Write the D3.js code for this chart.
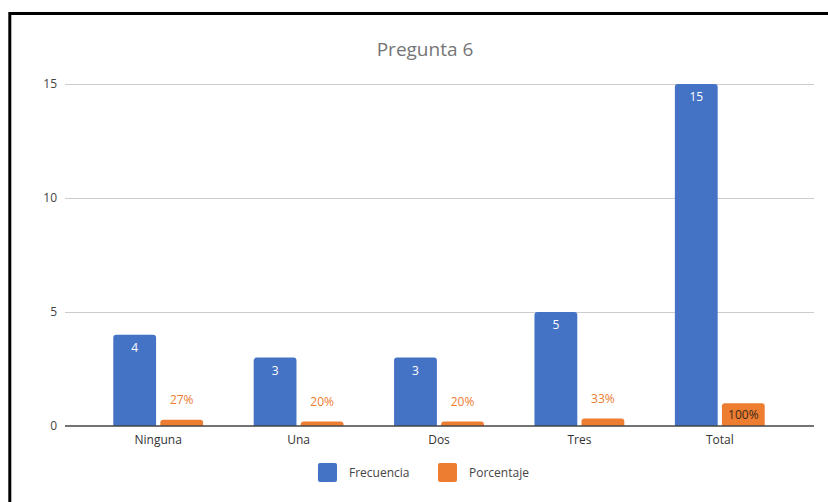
<!DOCTYPE html>
<html>
<head>
  <meta charset="utf-8">
  <script src="https://d3js.org/d3.v7.min.js"></script>
  <style>
    body { margin: 0; background: #fff; }
    svg text { font-family: "Open Sans", "Noto Sans", sans-serif; }
  </style>
</head>
<body>
<div id="chart"></div>
<script>
// data
var categories = ["Ninguna", "Una", "Dos", "Tres", "Total"];
var series = ["Frecuencia", "Porcentaje"];
var frecuencia = [4, 3, 3, 5, 15];
var porcentaje = [0.27, 0.20, 0.20, 0.33, 1.00];
var yTicks = [0, 5, 10, 15];
var colors = ["#4472C4", "#ED7D31"];

var width = 828, height = 502;

var svg = d3.select("#chart").append("svg")
  .attr("width", width)
  .attr("height", height);

// outer frame (only top and left visible)
svg.append("rect")
  .attr("x", 9.8).attr("y", 13.5)
  .attr("width", 840).attr("height", 520)
  .attr("fill", "none")
  .attr("stroke", "#000")
  .attr("stroke-width", 3);

svg.append("text")
  .attr("x", 425).attr("y", 49)
  .attr("dy", "0.35em")
  .attr("text-anchor", "middle")
  .style("font-size", "19px")
  .style("fill", "#757575")
  .text("Pregunta 6");

var y = d3.scaleLinear().domain([0, 15]).range([426, 84]);

var x0 = d3.scaleBand().domain(categories)
  .range([88, 790])
  .paddingInner(0.36)
  .paddingOuter(0.18);

var x1 = d3.scaleBand().domain(series)
  .range([0, x0.bandwidth()])
  .paddingInner(0.09);

// gridlines
svg.append("g").selectAll("line")
  .data(yTicks.filter(function(d) { return d > 0; }))
  .join("line")
  .attr("x1", 65).attr("x2", 814)
  .attr("y1", function(d) { return Math.round(y(d)) + 0.5; })
  .attr("y2", function(d) { return Math.round(y(d)) + 0.5; })
  .attr("stroke", "#cccccc");

// y labels
svg.append("g").selectAll("text")
  .data(yTicks)
  .join("text")
  .attr("x", 57)
  .attr("y", function(d) { return y(d); })
  .attr("dy", "0.35em")
  .attr("text-anchor", "end")
  .style("font-size", "12px")
  .style("fill", "#444")
  .text(function(d) { return d; });

// rounded-top bar path
function barPath(bx, by, bw, bh, r) {
  r = Math.min(r, bh, bw / 2);
  return "M" + bx + "," + (by + bh) +
    "V" + (by + r) +
    "Q" + bx + "," + by + " " + (bx + r) + "," + by +
    "H" + (bx + bw - r) +
    "Q" + (bx + bw) + "," + by + " " + (bx + bw) + "," + (by + r) +
    "V" + (by + bh) + "Z";
}

var rows = categories.map(function(c, i) {
  return { cat: c, vals: [frecuencia[i], porcentaje[i]] };
});

var groups = svg.append("g").selectAll("g")
  .data(rows)
  .join("g")
  .attr("transform", function(d) { return "translate(" + x0(d.cat) + ",0)"; });

groups.selectAll("path")
  .data(function(d) { return d.vals.map(function(v, j) { return { s: series[j], v: v, j: j }; }); })
  .join("path")
  .attr("d", function(d) {
    return barPath(x1(d.s), y(d.v), x1.bandwidth(), y(0) - y(d.v), 3);
  })
  .attr("fill", function(d) { return colors[d.j]; });

// value labels
groups.selectAll("text")
  .data(function(d) { return d.vals.map(function(v, j) { return { s: series[j], v: v, j: j }; }); })
  .join("text")
  .attr("x", function(d) { return x1(d.s) + x1.bandwidth() / 2; })
  .attr("y", function(d) {
    var h = y(0) - y(d.v);
    if (d.j === 0) return y(d.v) + 13;
    return h > 18 ? y(d.v) + 12 : y(d.v) - 20;
  })
  .attr("dy", "0.35em")
  .attr("text-anchor", "middle")
  .style("font-size", "12px")
  .style("fill", function(d) {
    if (d.j === 0) return "#fff";
    return (y(0) - y(d.v)) > 18 ? "#3a2a1a" : colors[1];
  })
  .text(function(d) { return d.j === 0 ? d.v : Math.round(d.v * 100) + "%"; });

// zero axis line
svg.append("line")
  .attr("x1", 65).attr("x2", 814)
  .attr("y1", y(0)).attr("y2", y(0))
  .attr("stroke", "#444")
  .attr("stroke-width", 1.5);

// category labels
svg.append("g").selectAll("text")
  .data(categories)
  .join("text")
  .attr("x", function(d) { return x0(d) + x0.bandwidth() / 2; })
  .attr("y", 440)
  .attr("dy", "0.35em")
  .attr("text-anchor", "middle")
  .style("font-size", "12px")
  .style("fill", "#333")
  .text(function(d) { return d; });

// legend
var legendX = [318, 438];
var legend = svg.append("g").selectAll("g")
  .data(series)
  .join("g")
  .attr("transform", function(d, i) { return "translate(" + legendX[i] + ",463)"; });

legend.append("rect")
  .attr("width", 19).attr("height", 19)
  .attr("rx", 2)
  .attr("fill", function(d, i) { return colors[i]; });

legend.append("text")
  .attr("x", 31).attr("y", 10)
  .attr("dy", "0.35em")
  .style("font-size", "12px")
  .style("fill", "#444")
  .text(function(d) { return d; });
</script>
</body>
</html>
